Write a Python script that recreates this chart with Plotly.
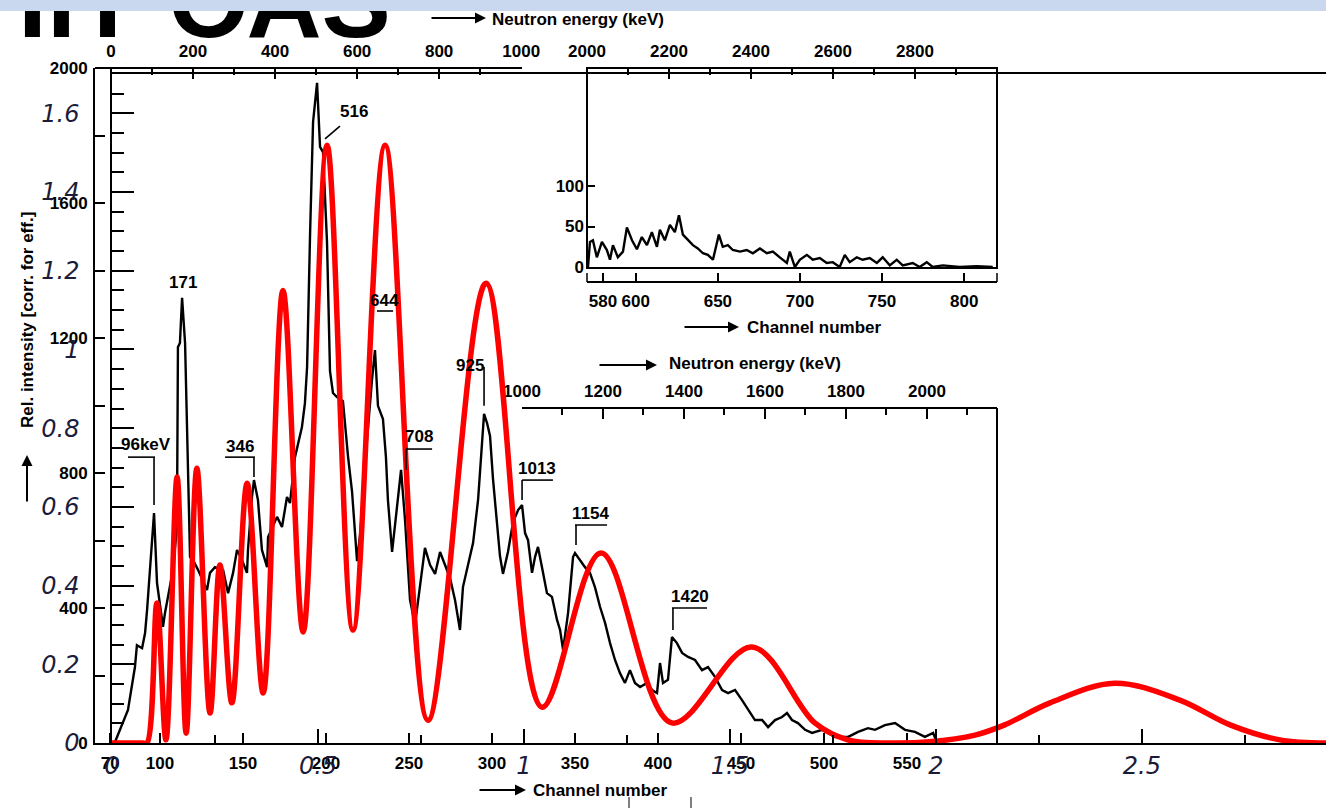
import plotly.graph_objects as go

W, H = 1326, 808


def px(x):
    return x / W


def py(y):
    return 1 - y / H


# ---------------- data ----------------
# smooth model curve (relative intensity vs. reduced energy)
red_x = [0.0, 0.075, 0.085, 0.109, 0.131, 0.158, 0.180, 0.206, 0.238, 0.262, 0.291,
         0.328, 0.367, 0.415, 0.464, 0.522, 0.585, 0.663, 0.767, 0.908, 1.044,
         1.187, 1.359, 1.553, 1.706, 1.786, 1.888, 1.985, 2.095, 2.167, 2.277,
         2.434, 2.592, 2.714, 2.835, 2.947]
red_y = [0.0, 0.0, 0.0, 0.356, 0.008, 0.676, 0.025, 0.698, 0.076, 0.452, 0.102,
         0.660, 0.127, 1.150, 0.282, 1.519, 0.287, 1.519, 0.058, 1.168, 0.091,
         0.483, 0.051, 0.244, 0.051, 0.008, 0.0, 0.003, 0.020, 0.046, 0.102,
         0.152, 0.109, 0.046, 0.008, 0.0]

# measured neutron spectrum (counts per channel)
channel = [72.9, 80.7, 84.9, 86.1, 89.2, 91.0, 92.2, 94.0, 95.2, 96.4, 98.2, 100.0,
           101.8, 103.0, 106.0, 107.8, 110.2, 110.8, 112.0, 113.3, 115.1, 116.9,
           118.1, 119.9, 122.9, 128.3, 130.1, 133.1, 138.0, 141.0, 144.0, 146.4,
           149.4, 152.4, 153.0, 155.4, 156.6, 159.0, 160.2, 161.4, 164.5, 165.1,
           170.5, 173.5, 176.5, 178.3, 181.3, 185.5, 187.3, 188.6, 190.4, 192.2,
           194.6, 196.4, 198.2, 200.6, 202.4, 204.2, 206.6, 210.2, 213.3, 215.7,
           218.7, 220.5, 222.3, 224.7, 227.7, 229.5, 231.3, 234.3, 236.1, 237.3,
           239.8, 241.6, 243.4, 245.2, 247.6, 250.6, 253.6, 256.6, 259.6, 262.7,
           265.7, 268.7, 271.7, 274.7, 277.7, 280.7, 282.5, 285.5, 288.6, 291.6,
           294.0, 295.2, 297.0, 298.8, 300.6, 303.0, 304.8, 306.6, 309.6, 312.7,
           315.7, 318.1, 319.9, 321.7, 324.1, 325.9, 327.7, 330.1, 333.1, 336.1,
           339.2, 341.0, 342.8, 345.8, 348.8, 350.0, 353.0, 356.0, 359.0, 362.0,
           365.1, 368.1, 371.1, 374.1, 377.1, 380.1, 383.1, 386.1, 389.2, 393.4,
           396.4, 399.4, 401.2, 403.0, 406.0, 408.4, 411.4, 414.5, 418.1, 422.3,
           426.5, 430.1, 434.3, 438.6, 442.2, 446.4, 450.6, 454.2, 458.4, 462.7,
           466.3, 470.5, 474.7, 477.7, 480.7, 484.3, 488.6, 492.8, 498.8, 502.4,
           506.6, 514.5, 520.5, 526.5, 530.7, 536.7, 542.8, 548.8, 554.8, 560.8,
           565.7, 568.1]
counts = [3, 98, 225, 290, 281, 326, 394, 513, 593, 681, 474, 415,
          344, 385, 462, 513, 640, 1173, 1185, 1319, 1185, 770,
          551, 542, 513, 453, 504, 521, 513, 444, 504, 572,
          542, 504, 572, 729, 779, 720, 652, 572, 521, 610,
          670, 640, 729, 711, 847, 936, 1007, 1114, 1508, 1840,
          1956, 1766, 1751, 1484, 1102, 1037, 1025, 1013, 847, 744,
          539, 616, 720, 898, 1076, 1164, 999, 960, 847, 720,
          566, 643, 720, 809, 661, 424, 350, 462, 578, 527,
          501, 566, 527, 489, 424, 335, 462, 527, 593, 720,
          883, 975, 948, 910, 782, 655, 554, 501, 566, 655,
          690, 705, 622, 601, 504, 551, 581, 521, 444, 433,
          364, 335, 276, 385, 551, 563, 542, 521, 504, 462,
          403, 356, 296, 246, 207, 178, 216, 178, 166, 178,
          157, 148, 237, 178, 187, 314, 296, 267, 255, 246,
          216, 225, 196, 157, 148, 157, 127, 98, 68, 68,
          47, 68, 77, 89, 68, 59, 39, 30, 39, 30,
          18, 18, 33, 44, 39, 53, 59, 39, 33, 18,
          30, 0]

# high-energy part of the spectrum (inset)
inset_channel = [570.9, 572.1, 573.9, 576.3, 579.4, 582.4, 584.3, 586.1, 589.1, 592.2,
                 594.6, 597.7, 600.7, 603.7, 606.8, 609.8, 612.9, 614.7, 617.7, 620.8,
                 623.8, 626.3, 628.7, 631.7, 634.8, 637.8, 640.9, 643.9, 647.0, 650.6,
                 653.0, 656.1, 659.1, 663.4, 667.6, 671.3, 675.6, 679.8, 683.5, 687.7,
                 692.0, 693.8, 696.9, 699.9, 704.2, 707.8, 712.1, 716.3, 720.0, 724.2,
                 727.3, 730.3, 734.6, 738.2, 742.5, 746.8, 750.4, 754.7, 758.9, 762.6,
                 768.7, 772.9, 777.2, 780.9, 787.0, 797.3, 807.6, 817.4]
inset_counts = [0, 31, 33, 12, 31, 21, 9, 27, 12, 19,
                49, 33, 22, 37, 27, 43, 25, 46, 33, 52,
                43, 64, 40, 33, 27, 23, 17, 15, 9, 40,
                25, 27, 21, 19, 21, 17, 23, 17, 19, 12,
                5, 19, 0, 9, 15, 9, 11, 5, 6, 0,
                15, 6, 12, 9, 11, 5, 12, 2, 9, 2,
                5, 0, 6, 0, 2, 0, 1, 0]

# peak annotations (label, channel, counts of label centre)
peak_text = ["96keV", "171", "346", "516", "644", "708", "925", "1013", "1154", "1420"]
peak_text_chan = [91.6, 113.9, 148.2, 216.9, 235.5, 256.0, 286.7, 327.1, 359.6, 419.3]
peak_text_counts = [883, 1363, 880, 1870, 1310, 907, 1120, 812, 681, 433]
# underline segments: (chan start, chan end, counts)
underlines = [(80.7, 97.0, 847), (139.2, 157.2, 847), (230.7, 240.4, 1280),
              (248.2, 263.9, 871), (318.1, 336.7, 779), (350.0, 369.3, 646),
              (408.4, 429.5, 400)]
# leader lines: (chan0, counts0, chan1, counts1)
leaders = [(96.4, 847, 96.4, 705), (156.6, 847, 156.6, 788), (208.4, 1828, 199.4, 1790),
           (248.2, 871, 248.2, 809), (295.2, 1114, 295.2, 999), (318.1, 779, 318.1, 720),
           (350.6, 646, 350.6, 587), (409.0, 400, 409.0, 335)]

# axis ticks
chan_ticks = [70, 100, 150, 200, 250, 300, 350, 400, 450, 500, 550]
count_ticks = [0, 200, 400, 600, 800, 1000, 1200, 1400, 1600, 1800, 2000]
count_ticktext = ["0", "", "400", "", "800", "", "1200", "", "1600", "", "2000"]
energy_ticks_low = [0, 200, 400, 600, 800, 1000]
energy_ticks_mid = [1000, 1200, 1400, 1600, 1800, 2000]
energy_ticks_high = [2000, 2200, 2400, 2600, 2800]
inset_chan_ticks = [580, 600, 650, 700, 750, 800]
inset_count_ticks = [0, 50, 100]

# ---------------- styling ----------------
SCAN_FONT = dict(family="Liberation Sans, Arial, sans-serif",
                 size=17, color="black", weight="bold")
ITAL_FONT = dict(family="DejaVu Sans, Verdana, sans-serif", size=24, color="#1c1c3a",
                 style="italic")
LINE = "black"

fig = go.Figure()

# slide title (clipped by the header band)
fig.add_trace(go.Scatter(x=[18], y=[-18], text=["IIT ОАS"], mode="text",
                         textposition="top right",
                         textfont=dict(family="Liberation Sans, Arial, sans-serif", size=104,
                                       color="black", weight="bold"),
                         xaxis="x6", yaxis="y6", cliponaxis=True, hoverinfo="skip",
                         showlegend=False))

# main spectrum
fig.add_trace(go.Scatter(x=channel, y=counts, mode="lines",
                         line=dict(color="black", width=2.4), xaxis="x", yaxis="y",
                         hoverinfo="skip", showlegend=False))
# energy axes carriers
fig.add_trace(go.Scatter(x=[500], y=[0], mode="markers", marker=dict(opacity=0),
                         xaxis="x2", yaxis="y", hoverinfo="skip", showlegend=False))
fig.add_trace(go.Scatter(x=[1500], y=[0], mode="markers", marker=dict(opacity=0),
                         xaxis="x3", yaxis="y", hoverinfo="skip", showlegend=False))
# inset spectrum
fig.add_trace(go.Scatter(x=inset_channel, y=inset_counts, mode="lines",
                         line=dict(color="black", width=2.4), xaxis="x4", yaxis="y4",
                         hoverinfo="skip", showlegend=False))
fig.add_trace(go.Scatter(x=[2500], y=[0], mode="markers", marker=dict(opacity=0),
                         xaxis="x5", yaxis="y4", hoverinfo="skip", showlegend=False))
# model curve on top
fig.add_trace(go.Scatter(x=red_x, y=red_y, mode="lines",
                         line=dict(color="#ff0000", width=5.5, shape="spline", smoothing=1.0),
                         xaxis="x7", yaxis="y7", hoverinfo="skip", showlegend=False))

common = dict(showgrid=False, zeroline=False, automargin=False, linecolor=LINE,
              tickcolor=LINE, tickangle=0)

fig.update_layout(
    width=W, height=H, margin=dict(l=0, r=0, t=0, b=0),
    paper_bgcolor="white", plot_bgcolor="rgba(0,0,0,0)",
    # channel / counts of the main spectrum
    xaxis=dict(domain=[px(95), px(997)], range=[60.84, 604.2], anchor="y",
               showline=True, linewidth=2, ticks="inside", ticklen=10, tickwidth=1.5,
               tickvals=chan_ticks, tickfont=SCAN_FONT, ticklabelstandoff=4, **common),
    yaxis=dict(domain=[py(743), py(68)], range=[0, 2000], anchor="x",
               showline=True, linewidth=2, ticks="inside", ticklen=10, tickwidth=1.5,
               tickvals=count_ticks, ticktext=count_ticktext, tickfont=SCAN_FONT,
               ticklabelstandoff=2, **common),
    # neutron energy, low range (top frame)
    xaxis2=dict(domain=[px(95), px(522)], range=[-39, 1002], anchor="free",
                position=py(68), side="top", showline=True, linewidth=2,
                ticks="inside", ticklen=10, tickwidth=1.5, tickvals=energy_ticks_low,
                minor=dict(dtick=100, ticks="inside", ticklen=6, tickcolor=LINE),
                tickfont=SCAN_FONT, ticklabelstandoff=3, **common),
    # neutron energy, middle range
    xaxis3=dict(domain=[px(522), px(997)], range=[1000, 2173], anchor="free",
                position=py(408), side="top", showline=True, linewidth=2,
                ticks="inside", ticklen=10, tickwidth=1.5, tickvals=energy_ticks_mid,
                minor=dict(dtick=100, ticks="inside", ticklen=6, tickcolor=LINE),
                tickfont=SCAN_FONT, ticklabelstandoff=3, **common),
    # inset: channel / counts
    xaxis4=dict(domain=[px(587), px(997)], range=[570.3, 820], anchor="free",
                position=py(282), showline=True, linewidth=2, ticks="inside",
                ticklen=8, tickwidth=1.5, tickvals=inset_chan_ticks, tickfont=SCAN_FONT,
                ticklabelstandoff=4, **common),
    yaxis4=dict(domain=[py(268), py(68)], range=[-1.2, 245.7], anchor="x4",
                showline=False, ticks="inside", ticklen=8, tickwidth=1.5,
                tickvals=inset_count_ticks, tickfont=SCAN_FONT, ticklabelstandoff=2,
                **common),
    # inset: neutron energy, high range
    xaxis5=dict(domain=[px(587), px(997)], range=[2000, 3000], anchor="free",
                position=py(68), side="top", showline=True, linewidth=2,
                ticks="inside", ticklen=10, tickwidth=1.5, tickvals=energy_ticks_high,
                minor=dict(dtick=100, ticks="inside", ticklen=6, tickcolor=LINE),
                tickfont=SCAN_FONT, ticklabelstandoff=3, **common),
    # header title clip region
    xaxis6=dict(domain=[0, px(470)], range=[0, 470], anchor="y6", visible=False),
    yaxis6=dict(domain=[py(45), py(10)], range=[0, 35], anchor="x6", visible=False),
    # model curve axes
    xaxis7=dict(domain=[px(112), 1], range=[0, 2.947], anchor="y7",
                showline=True, linewidth=1.5, mirror=True, ticks="inside", ticklen=14,
                tickwidth=1.5, dtick=0.5, tick0=0,
                minor=dict(dtick=0.25, ticks="inside", ticklen=8, tickcolor=LINE),
                tickfont=ITAL_FONT, ticklabelstandoff=0, **common),
    yaxis7=dict(domain=[py(743), py(74)], range=[0, 1.7], anchor="x7",
                showline=True, linewidth=1.5, ticks="inside", ticklen=22, tickwidth=1.5,
                dtick=0.2, tick0=0,
                minor=dict(dtick=0.05, ticks="inside", ticklen=12, tickcolor=LINE),
                tickfont=ITAL_FONT, ticklabelstandoff=26, **common),
)

shapes = []
# header band
shapes.append(dict(type="rect", xref="paper", yref="paper", x0=0, x1=1, y0=py(11), y1=1,
                   fillcolor="#c9d8ee", line=dict(width=0), layer="above"))
# inset frame
shapes.append(dict(type="rect", xref="paper", yref="paper", x0=px(587), x1=px(997),
                   y0=py(268), y1=py(68), line=dict(color=LINE, width=2), layer="below"))
# right frame of the middle-energy box
shapes.append(dict(type="line", xref="paper", yref="paper", x0=px(997), x1=px(997),
                   y0=py(743), y1=py(408), line=dict(color=LINE, width=2)))
# end ticks of inset channel axis
for xe in (587, 997):
    shapes.append(dict(type="line", xref="paper", yref="paper", x0=px(xe), x1=px(xe),
                       y0=py(282), y1=py(273), line=dict(color=LINE, width=1.5)))
# small marks below the figure
for xe in (629, 691):
    shapes.append(dict(type="line", xref="paper", yref="paper", x0=px(xe), x1=px(xe),
                       y0=py(808), y1=py(797), line=dict(color=LINE, width=1)))
# peak label underlines and leaders
for c0, c1, n in underlines:
    shapes.append(dict(type="line", xref="x", yref="y", x0=c0, x1=c1, y0=n, y1=n,
                       line=dict(color=LINE, width=1.6)))
for c0, n0, c1, n1 in leaders:
    shapes.append(dict(type="line", xref="x", yref="y", x0=c0, x1=c1, y0=n0, y1=n1,
                       line=dict(color=LINE, width=1.6)))

annotations = []
LBL = dict(SCAN_FONT, size=17)
for t, c, n in zip(peak_text, peak_text_chan, peak_text_counts):
    annotations.append(dict(text=t, x=c, y=n, xref="x", yref="y", showarrow=False,
                            font=LBL))


def arrow(x0, y0, x1, y1):
    return dict(x=px(x1), y=py(y1), xref="paper", yref="paper", ax=x0 - x1, ay=y0 - y1,
                axref="pixel", ayref="pixel", text="", showarrow=True, arrowhead=2,
                arrowsize=1.1, arrowwidth=2, arrowcolor=LINE)


def label(text, x, y, xanchor="left", angle=0):
    return dict(text=text, x=px(x), y=py(y), xref="paper", yref="paper", showarrow=False,
                xanchor=xanchor, yanchor="middle", textangle=angle, font=SCAN_FONT)


annotations += [
    arrow(430, 18, 486, 18), label("Neutron energy (keV)", 490, 19),
    arrow(598, 365, 657, 365), label("Neutron energy (keV)", 667, 364),
    arrow(683, 327, 739, 327), label("Channel number", 745, 327),
    arrow(478, 790, 526, 790), label("Channel number", 531, 790),
    arrow(27, 503, 27, 455),
    label("Rel. intensity [corr. for eff.]", 27, 320, xanchor="center", angle=-90),
]

fig.update_layout(shapes=shapes, annotations=annotations)

fig.write_html("out.html")
